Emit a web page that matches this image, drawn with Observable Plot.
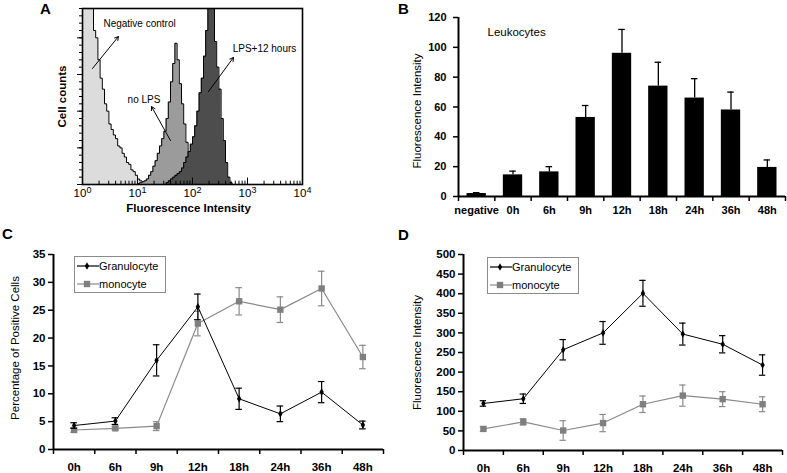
<!DOCTYPE html>
<html><head><meta charset="utf-8">
<script src="https://cdn.jsdelivr.net/npm/d3@7"></script>
<script src="https://cdn.jsdelivr.net/npm/@observablehq/plot@0.6"></script>
<style>
body{margin:0;background:#fff;}
#wrap{position:relative;width:787px;height:473px;font-family:"Liberation Sans",Arial,sans-serif;overflow:hidden;background:#fff}
.letter{position:absolute;font-weight:bold;font-size:15px;line-height:1}
.legend{position:absolute;border:1px solid #8c8c8c;background:#fff;font-size:11px;box-sizing:border-box}
.legend .row{position:absolute;left:1px;height:12px;line-height:12px;white-space:nowrap}
.legend svg{position:absolute;left:0;top:0}
.legend span{position:absolute;left:23px;top:0}
</style></head><body><div id="wrap"></div>
<script>
// ---------- Panel A: flow cytometry histograms (log10 bins) ----------
const histBinWidth = 0.04;
const negStart = 0.00;
const negCounts = [150,150,150,150,140,84,80,68,58,52,44,40,33,30,27,25,21,20,17,15,12,11,8,7,5,3,2,1.5,1,0.6,0.3];
const noLpsStart = 1.00;
const noLpsCounts = [0.5,1,1.5,2,3,5,7,10,13,17,21,25,29,36,45,56,66,77,68,55,44,33,23,14,8,4,1];
const lpsStart = 1.52;
const lpsCounts = [1,2,3,4,5,6,7,9,12,15,18,22,26,32,40,50,58,70,84,100,110,100,78,64,52,36,24,12,4,1];
const annotationLabels = ["Negative control", "no LPS", "LPS+12 hours"];
const annotationTextX = [2.4, 6.6, 537];
const annotationTextY = [87.8, 46.4, 74.2];
const arrowFromX = [1.52, 39.8, 195];
const arrowFromY = [63.3, 24, 50.7];
const arrowToX = [4.5, 18, 556];
const arrowToY = [80.7, 42.5, 69.3];
const histTicks = [1, 10, 100, 1000, 10000];

// ---------- Panel B: leukocytes ----------
const barCategories = ["negative","0h","6h","9h","12h","18h","24h","36h","48h"];
const barValues = [2, 14.5, 16.5, 53, 96, 74, 66, 58, 19.5];
const barErrors = [0.6, 2.5, 3.5, 8, 16, 16, 13, 12, 5];

// ---------- Panels C, D ----------
const timeCategories = ["0h","6h","9h","12h","18h","24h","36h","48h"];
const pctGran = [4.3, 5.1, 16.0, 25.6, 9.1, 6.4, 10.3, 4.4];
const pctGranErr = [0.5, 0.6, 2.8, 2.3, 1.9, 1.4, 1.9, 0.7];
const pctMono = [3.5, 3.8, 4.2, 22.6, 26.6, 25.1, 28.9, 16.6];
const pctMonoErr = [0.4, 0.3, 0.8, 2.2, 2.45, 2.3, 3.1, 2.1];
const fiGran = [120, 132, 257, 300, 401, 297, 271, 218];
const fiGranErr = [7, 12, 26, 29, 33, 28, 22, 26];
const fiMono = [55, 73, 51, 70, 118, 140, 131, 118];
const fiMonoErr = [6, 8, 25, 22, 21, 27, 19, 19];
const seriesNames = ["Granulocyte", "monocyte"];

// ---------- helpers ----------
const wrap = document.getElementById("wrap");
const font = "'Liberation Sans', Arial, sans-serif";
const baseStyle = {fontFamily: font, fontSize: "11px", background: "transparent", color: "black", overflow: "visible"};
const granColor = "#000000", monoColor = "#8a8a8a", monoMarker = "#7f7f7f";

function place(el, left, top) {
  el.style.position = "absolute"; el.style.left = left + "px"; el.style.top = top + "px";
  wrap.appendChild(el);
}
function histPoints(start, counts) {
  const pts = [{x: 10 ** start, y: 0}];
  counts.forEach((c, i) => pts.push({x: 10 ** (start + i * histBinWidth), y: c}));
  pts.push({x: 10 ** (start + counts.length * histBinWidth), y: 0});
  return pts;
}
function letter(t, left, top) {
  const d = document.createElement("div"); d.className = "letter"; d.textContent = t;
  d.style.left = left + "px"; d.style.top = top + "px"; wrap.appendChild(d);
}

// ---------- Panel A ----------
const negPts = histPoints(negStart, negCounts);
const noLpsPts = histPoints(noLpsStart, noLpsCounts);
const lpsPts = histPoints(lpsStart, lpsCounts);
const annotations = annotationLabels.map((label, k) => ({label, tx: annotationTextX[k], ty: annotationTextY[k],
  x1: arrowFromX[k], y1: arrowFromY[k], x2: arrowToX[k], y2: arrowToY[k]}));
const minorLog = [];
for (const dec of [1, 10, 100, 1000]) for (let m = 2; m <= 9; m++) minorLog.push(dec * m);

const plotA = Plot.plot({
  width: 320, height: 225, marginLeft: 82, marginRight: 18, marginTop: 8, marginBottom: 41,
  style: baseStyle,
  x: {type: "log", domain: [1, 10000], label: null},
  y: {domain: [0, 96], label: null},
  marks: [
    Plot.areaY(negPts, {x: "x", y1: 0, y2: "y", curve: "step-after", fill: "#dcdcdc", clip: true}),
    Plot.lineY(negPts, {x: "x", y: "y", curve: "step-after", stroke: "black", strokeWidth: 1, clip: true}),
    Plot.areaY(noLpsPts, {x: "x", y1: 0, y2: "y", curve: "step-after", fill: "#9b9b9b", clip: true}),
    Plot.lineY(noLpsPts, {x: "x", y: "y", curve: "step-after", stroke: "black", strokeWidth: 1, clip: true}),
    Plot.areaY(lpsPts, {x: "x", y1: 0, y2: "y", curve: "step-after", fill: "#4d4d4d", clip: true}),
    Plot.lineY(lpsPts, {x: "x", y: "y", curve: "step-after", stroke: "black", strokeWidth: 1, clip: true}),
    Plot.arrow(annotations, {x1: "x1", y1: "y1", x2: "x2", y2: "y2", stroke: "black", strokeWidth: 1, headLength: 6}),
    Plot.text(annotations, {x: "tx", y: "ty", text: "label", textAnchor: "start", fontSize: 10}),
    Plot.frame({stroke: "black", strokeWidth: 1.6}),
    Plot.axisY({ticks: d3.range(0, 97, 20), tickSize: 5, tickFormat: () => "", label: null}),
    Plot.axisY({ticks: d3.range(0, 97, 4), tickSize: 3, tickFormat: () => "", label: null}),
    Plot.ruleX(histTicks, {y1: 0, y2: 3.5, stroke: "black", strokeWidth: 1}),
    Plot.ruleX(minorLog, {y1: 0, y2: 1.8, stroke: "black", strokeWidth: 1}),
    Plot.axisX({ticks: histTicks, tickSize: 0, tickPadding: 4, tickFormat: d => "10^" + Math.round(Math.log10(d)), fontSize: 11.5, label: null}),
    Plot.text(["Cell counts"], {frameAnchor: "left", rotate: -90, dx: -20, textAnchor: "middle", fontSize: 11.5, fontWeight: "bold"}),
    Plot.text(["Fluorescence Intensity"], {frameAnchor: "bottom", dy: 27, dx: -4, textAnchor: "middle", fontSize: 11.5, fontWeight: "bold"})
  ]
});
// superscript exponents
plotA.querySelectorAll("text").forEach(t => {
  const m = /^10\^(\d)$/.exec(t.textContent);
  if (m) {
    t.textContent = "10";
    const ts = document.createElementNS("http://www.w3.org/2000/svg", "tspan");
    ts.setAttribute("dy", "-4"); ts.setAttribute("font-size", "9"); ts.textContent = m[1];
    t.appendChild(ts);
  }
});
place(plotA, 0, 0);

// ---------- Panel B ----------
const barData = barCategories.map((c, i) => ({i, c, v: barValues[i], e: barErrors[i]}));
const plotB = Plot.plot({
  width: 397, height: 225, marginLeft: 68, marginRight: 2, marginTop: 17, marginBottom: 29,
  style: baseStyle,
  x: {domain: [-0.5, 8.5], label: null},
  y: {domain: [0, 120], label: null},
  marks: [
    Plot.rectY(barData, {x1: d => d.i - 0.5, x2: d => d.i + 0.5, y1: 0, y2: "v", fill: "black", insetLeft: 8.5, insetRight: 8.5}),
    Plot.ruleX(barData, {x: "i", y1: "v", y2: d => d.v + d.e, stroke: "black", strokeWidth: 1.3}),
    Plot.ruleY(barData, {y: d => d.v + d.e, x1: d => d.i - 0.09, x2: d => d.i + 0.09, stroke: "black", strokeWidth: 1.3}),
    Plot.ruleY([0], {stroke: "black", strokeWidth: 2}),
    Plot.ruleX([-0.5], {stroke: "black", strokeWidth: 2}),
    Plot.axisY({ticks: d3.range(0, 121, 20), tickSize: 5, tickPadding: 7, strokeWidth: 1.5, fontWeight: "bold", fontSize: 11, label: null}),
    Plot.axisX({ticks: d3.range(-0.5, 9, 1), tickSize: 5, strokeWidth: 1.5, tickFormat: () => "", label: null}),
    Plot.axisX({ticks: d3.range(0, 9), tickSize: 0, tickPadding: 10, tickFormat: i => barCategories[i], fontWeight: "bold", fontSize: 11, label: null}),
    Plot.text(["Leukocytes"], {frameAnchor: "top-left", dx: 29, dy: 10, textAnchor: "start", fontSize: 11.5}),
    Plot.text(["Fluorescence Intensity"], {frameAnchor: "left", rotate: -90, dx: -41, dy: 4, textAnchor: "middle", fontSize: 11.5})
  ]
});
place(plotB, 390, 0);

// ---------- Panels C & D ----------
function linePanel(gran, granErr, mono, monoErr, yMax, yStep, opts) {
  const g = timeCategories.map((c, i) => ({i, v: gran[i], e: granErr[i]}));
  const m = timeCategories.map((c, i) => ({i, v: mono[i], e: monoErr[i]}));
  const errMarks = (data, color) => [
    Plot.ruleX(data, {x: "i", y1: d => d.v - d.e, y2: d => d.v + d.e, stroke: color, strokeWidth: 1.2}),
    Plot.ruleY(data, {y: d => d.v + d.e, x1: d => d.i - 0.08, x2: d => d.i + 0.08, stroke: color, strokeWidth: 1.2}),
    Plot.ruleY(data, {y: d => d.v - d.e, x1: d => d.i - 0.08, x2: d => d.i + 0.08, stroke: color, strokeWidth: 1.2})
  ];
  return Plot.plot({
    width: opts.width, height: 248, marginLeft: opts.ml, marginRight: opts.mr, marginTop: 29, marginBottom: opts.mb,
    style: baseStyle,
    x: {domain: [-0.5, 7.5], label: null},
    y: {domain: [0, yMax], label: null},
    marks: [
      ...errMarks(m, monoColor),
      Plot.line(m, {x: "i", y: "v", stroke: monoColor, strokeWidth: 1.2}),
      Plot.dot(m, {x: "i", y: "v", symbol: "square", r: 3.6, fill: monoMarker, stroke: "none"}),
      ...errMarks(g, granColor),
      Plot.line(g, {x: "i", y: "v", stroke: granColor, strokeWidth: 1}),
      Plot.dot(g, {x: "i", y: "v", symbol: "diamond", r: 2.3, fill: granColor, stroke: "none"}),
      Plot.ruleY([0], {stroke: "black", strokeWidth: 2}),
      Plot.ruleX([-0.5], {stroke: "black", strokeWidth: 2}),
      Plot.axisY({ticks: d3.range(0, yMax + 1, yStep), tickSize: 5, tickPadding: 3, strokeWidth: 1.5, fontWeight: "bold", fontSize: 11.5, label: null}),
      Plot.axisX({ticks: d3.range(-0.5, 8, 1), tickSize: 5, strokeWidth: 1.5, tickFormat: () => "", label: null}),
      Plot.axisX({ticks: d3.range(0, 8), tickSize: 0, tickPadding: 13, tickFormat: i => timeCategories[i], fontWeight: "bold", fontSize: 11.5, label: null}),
      Plot.text([opts.ylabel], {frameAnchor: "left", rotate: -90, dx: opts.ldx, dy: opts.ldy, textAnchor: "middle", fontSize: 11.5})
    ]
  });
}
const plotC = linePanel(pctGran, pctGranErr, pctMono, pctMonoErr, 35, 5,
  {width: 393, ml: 53, mr: 10, mb: 24, ldx: -38, ldy: -4, ylabel: "Percentage of Positive Cells"});
place(plotC, 0, 225);
const plotD = linePanel(fiGran, fiGranErr, fiMono, fiMonoErr, 500, 50,
  {width: 394, ml: 70, mr: 5, mb: 23, ldx: -46, ldy: 0, ylabel: "Fluorescence Intensity"});
place(plotD, 393, 225);

// ---------- legends ----------
function legend(left, top) {
  const box = document.createElement("div"); box.className = "legend";
  box.style.left = left + "px"; box.style.top = top + "px"; box.style.width = "92px"; box.style.height = "37px";
  const items = [
    {name: seriesNames[0], color: granColor, marker: granColor, sym: d3.symbolDiamond, size: Math.PI * 2.3 * 2.3},
    {name: seriesNames[1], color: monoColor, marker: monoMarker, sym: d3.symbolSquare, size: Math.PI * 3.6 * 3.6}
  ];
  items.forEach((it, k) => {
    const row = document.createElement("div"); row.className = "row";
    row.style.top = (k === 0 ? 3 : 21) + "px";
    row.innerHTML = `<svg width="24" height="12"><line x1="1" x2="23" y1="6" y2="6" stroke="${it.color}" stroke-width="1.2"/>` +
      `<path transform="translate(11,6)" d="${d3.symbol(it.sym, it.size)()}" fill="${it.marker}"/></svg><span>${it.name}</span>`;
    box.appendChild(row);
  });
  wrap.appendChild(box);
}
legend(74, 256);
legend(487, 257);

letter("A", 40, 1);
letter("B", 398, 1);
letter("C", 2, 226);
letter("D", 398, 227);
</script>
</body></html>
